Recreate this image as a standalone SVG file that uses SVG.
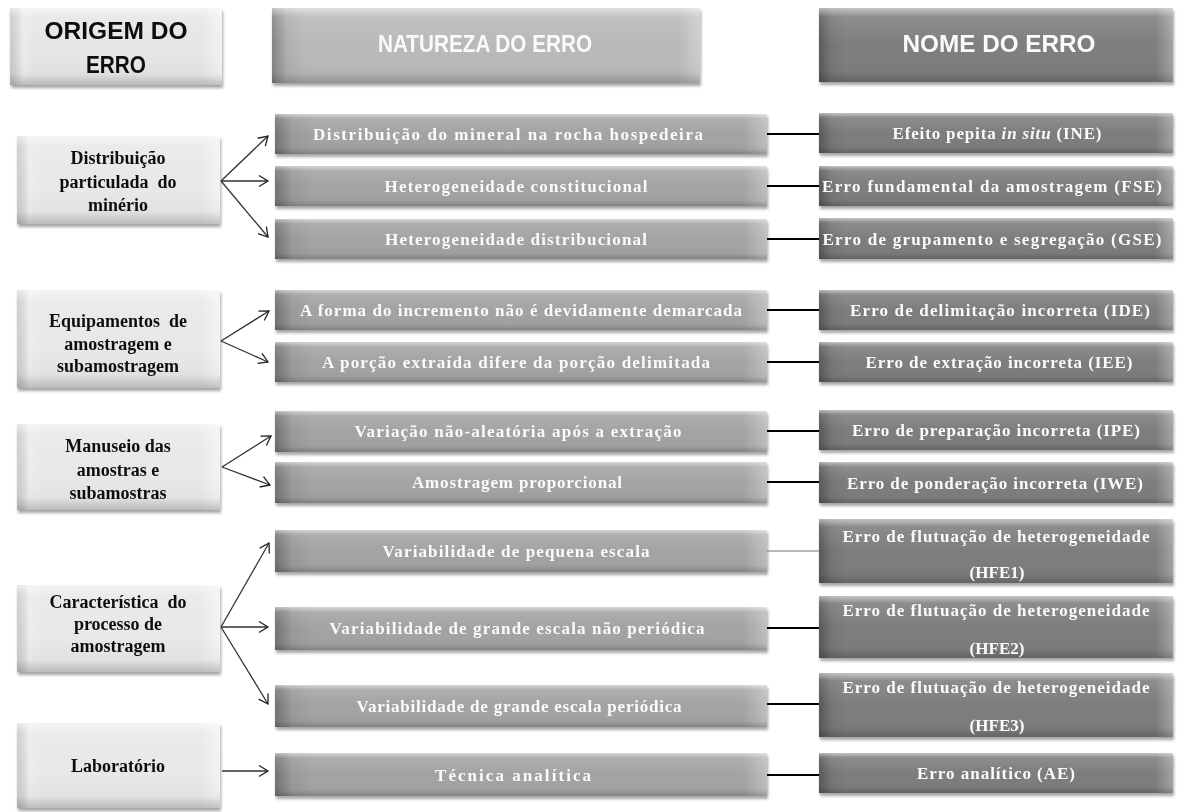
<svg xmlns="http://www.w3.org/2000/svg" width="1178" height="812" viewBox="0 0 1178 812">
<style>
.t{font-family:"Liberation Serif","Times New Roman",serif;font-weight:bold;text-anchor:middle}
.w{fill:#fbfbfb;font-size:17px}
.k{fill:#111;font-size:18px}
.h{font-family:"Liberation Sans",Arial,sans-serif;font-weight:bold;text-anchor:middle;font-size:23px}
.ln{stroke:#000;stroke-width:2;fill:none}
.ar{stroke:#333;stroke-width:1.3;fill:none;marker-end:url(#ah)}
.sh{filter:url(#ds)}
</style>
<defs>
<filter id="ds" x="-5%" y="-20%" width="110%" height="150%">
<feDropShadow dx="1" dy="3" stdDeviation="1.6" flood-color="#000" flood-opacity="0.35"/>
</filter>
<linearGradient id="vs" x1="0" y1="0" x2="0" y2="1">
<stop offset="0" stop-color="#fff" stop-opacity="0.55"/>
<stop offset="0.12" stop-color="#fff" stop-opacity="0.12"/>
<stop offset="0.5" stop-color="#fff" stop-opacity="0"/>
<stop offset="0.86" stop-color="#000" stop-opacity="0.03"/>
<stop offset="1" stop-color="#000" stop-opacity="0.2"/>
</linearGradient>
<linearGradient id="hs" x1="0" y1="0" x2="1" y2="0">
<stop offset="0" stop-color="#000" stop-opacity="0.3"/>
<stop offset="0.035" stop-color="#000" stop-opacity="0.06"/>
<stop offset="0.08" stop-color="#000" stop-opacity="0"/>
<stop offset="0.95" stop-color="#fff" stop-opacity="0"/>
<stop offset="1" stop-color="#fff" stop-opacity="0.3"/>
</linearGradient>
<linearGradient id="hl" x1="0" y1="0" x2="1" y2="0">
<stop offset="0" stop-color="#000" stop-opacity="0.12"/>
<stop offset="0.06" stop-color="#fff" stop-opacity="0.2"/>
<stop offset="0.12" stop-color="#fff" stop-opacity="0"/>
<stop offset="0.9" stop-color="#fff" stop-opacity="0"/>
<stop offset="1" stop-color="#fff" stop-opacity="0.5"/>
</linearGradient>
<marker id="ah" markerUnits="userSpaceOnUse" markerWidth="14" markerHeight="14" refX="11" refY="7" orient="auto">
<path d="M2,1.5 L11,7 L2,12.5" fill="none" stroke="#222" stroke-width="1.3"/>
</marker>
</defs>
<rect width="1178" height="812" fill="#fff"/>

<!-- headers -->
<g id="h-origem" class="sh">
<rect x="10" y="8" width="212" height="77" fill="#e6e6e6"/>
<rect x="10" y="8" width="212" height="77" fill="url(#hl)"/>
<rect x="10" y="8" width="212" height="77" fill="url(#vs)"/>
<text class="h" fill="#111" x="116" y="39" textLength="143" lengthAdjust="spacingAndGlyphs">ORIGEM DO</text>
<text class="h" fill="#111" x="116" y="73" textLength="60" lengthAdjust="spacingAndGlyphs">ERRO</text>
</g>
<g id="h-natureza" class="sh">
<rect x="272" y="8" width="428" height="75" fill="#b9b9b9"/>
<rect x="272" y="8" width="428" height="75" fill="url(#hs)"/>
<rect x="272" y="8" width="428" height="75" fill="url(#vs)"/>
<text class="h" fill="#fafafa" x="485" y="52" textLength="214" lengthAdjust="spacingAndGlyphs">NATUREZA DO ERRO</text>
</g>
<g id="h-nome" class="sh">
<rect x="819" y="8" width="354" height="74" fill="#7e7e7e"/>
<rect x="819" y="8" width="354" height="74" fill="url(#hs)"/>
<rect x="819" y="8" width="354" height="74" fill="url(#vs)"/>
<text class="h" fill="#fafafa" x="999" y="52" textLength="193" lengthAdjust="spacingAndGlyphs">NOME DO ERRO</text>
</g>

<!-- left nodes -->
<g id="o1" class="sh">
<rect x="17" y="136" width="203" height="88" fill="#e8e8e8"/>
<rect x="17" y="136" width="203" height="88" fill="url(#hl)"/>
<rect x="17" y="136" width="203" height="88" fill="url(#vs)"/>
<text class="t k" x="118" y="164">Distribuição</text>
<text class="t k" x="118" y="188" xml:space="preserve">particulada  do</text>
<text class="t k" x="118" y="211">minério</text>
</g>
<g id="o2" class="sh">
<rect x="17" y="290" width="203" height="98" fill="#e8e8e8"/>
<rect x="17" y="290" width="203" height="98" fill="url(#hl)"/>
<rect x="17" y="290" width="203" height="98" fill="url(#vs)"/>
<text class="t k" x="118" y="327" xml:space="preserve">Equipamentos  de</text>
<text class="t k" x="118" y="350">amostragem e</text>
<text class="t k" x="118" y="372">subamostragem</text>
</g>
<g id="o3" class="sh">
<rect x="17" y="424" width="203" height="86" fill="#e8e8e8"/>
<rect x="17" y="424" width="203" height="86" fill="url(#hl)"/>
<rect x="17" y="424" width="203" height="86" fill="url(#vs)"/>
<text class="t k" x="118" y="452">Manuseio das</text>
<text class="t k" x="118" y="476">amostras e</text>
<text class="t k" x="118" y="499">subamostras</text>
</g>
<g id="o4" class="sh">
<rect x="17" y="585" width="203" height="87" fill="#e8e8e8"/>
<rect x="17" y="585" width="203" height="87" fill="url(#hl)"/>
<rect x="17" y="585" width="203" height="87" fill="url(#vs)"/>
<text class="t k" x="118" y="608" xml:space="preserve">Característica  do</text>
<text class="t k" x="118" y="630">processo de</text>
<text class="t k" x="118" y="652">amostragem</text>
</g>
<g id="o5" class="sh">
<rect x="17" y="723" width="203" height="85" fill="#e8e8e8"/>
<rect x="17" y="723" width="203" height="85" fill="url(#hl)"/>
<rect x="17" y="723" width="203" height="85" fill="url(#vs)"/>
<text class="t k" x="118" y="772">Laboratório</text>
</g>

<!-- middle nodes -->
<g id="n1" class="sh">
<rect x="275" y="114" width="492" height="40" fill="#a3a3a3"/>
<rect x="275" y="114" width="492" height="40" fill="url(#hs)"/>
<rect x="275" y="114" width="492" height="40" fill="url(#vs)"/>
<text class="t w" x="508" y="140" textLength="390" lengthAdjust="spacing">Distribuição do mineral na rocha hospedeira</text>
</g>
<g id="n2" class="sh">
<rect x="275" y="166" width="492" height="40" fill="#a3a3a3"/>
<rect x="275" y="166" width="492" height="40" fill="url(#hs)"/>
<rect x="275" y="166" width="492" height="40" fill="url(#vs)"/>
<text class="t w" x="516" y="192" textLength="263" lengthAdjust="spacing">Heterogeneidade constitucional</text>
</g>
<g id="n3" class="sh">
<rect x="275" y="219" width="492" height="40" fill="#a3a3a3"/>
<rect x="275" y="219" width="492" height="40" fill="url(#hs)"/>
<rect x="275" y="219" width="492" height="40" fill="url(#vs)"/>
<text class="t w" x="516" y="245" textLength="262" lengthAdjust="spacing">Heterogeneidade distribucional</text>
</g>
<g id="n4" class="sh">
<rect x="275" y="290" width="492" height="40" fill="#a3a3a3"/>
<rect x="275" y="290" width="492" height="40" fill="url(#hs)"/>
<rect x="275" y="290" width="492" height="40" fill="url(#vs)"/>
<text class="t w" x="521" y="316" textLength="442" lengthAdjust="spacing">A forma do incremento não é devidamente demarcada</text>
</g>
<g id="n5" class="sh">
<rect x="275" y="342" width="492" height="40" fill="#a3a3a3"/>
<rect x="275" y="342" width="492" height="40" fill="url(#hs)"/>
<rect x="275" y="342" width="492" height="40" fill="url(#vs)"/>
<text class="t w" x="516" y="368" textLength="388" lengthAdjust="spacing">A porção extraída difere da porção delimitada</text>
</g>
<g id="n6" class="sh">
<rect x="275" y="411" width="492" height="41" fill="#a3a3a3"/>
<rect x="275" y="411" width="492" height="41" fill="url(#hs)"/>
<rect x="275" y="411" width="492" height="41" fill="url(#vs)"/>
<text class="t w" x="518" y="437" textLength="327" lengthAdjust="spacing">Variação não-aleatória após a extração</text>
</g>
<g id="n7" class="sh">
<rect x="275" y="462" width="492" height="41" fill="#a3a3a3"/>
<rect x="275" y="462" width="492" height="41" fill="url(#hs)"/>
<rect x="275" y="462" width="492" height="41" fill="url(#vs)"/>
<text class="t w" x="517" y="488" textLength="210" lengthAdjust="spacing">Amostragem proporcional</text>
</g>
<g id="n8" class="sh">
<rect x="275" y="530" width="492" height="42" fill="#a3a3a3"/>
<rect x="275" y="530" width="492" height="42" fill="url(#hs)"/>
<rect x="275" y="530" width="492" height="42" fill="url(#vs)"/>
<text class="t w" x="516" y="557" textLength="267" lengthAdjust="spacing">Variabilidade de pequena escala</text>
</g>
<g id="n9" class="sh">
<rect x="275" y="607" width="492" height="43" fill="#a3a3a3"/>
<rect x="275" y="607" width="492" height="43" fill="url(#hs)"/>
<rect x="275" y="607" width="492" height="43" fill="url(#vs)"/>
<text class="t w" x="517" y="634" textLength="375" lengthAdjust="spacing">Variabilidade de grande escala não periódica</text>
</g>
<g id="n10" class="sh">
<rect x="275" y="685" width="492" height="42" fill="#a3a3a3"/>
<rect x="275" y="685" width="492" height="42" fill="url(#hs)"/>
<rect x="275" y="685" width="492" height="42" fill="url(#vs)"/>
<text class="t w" x="519" y="712" textLength="325" lengthAdjust="spacing">Variabilidade de grande escala periódica</text>
</g>
<g id="n11" class="sh">
<rect x="275" y="753" width="492" height="43" fill="#a3a3a3"/>
<rect x="275" y="753" width="492" height="43" fill="url(#hs)"/>
<rect x="275" y="753" width="492" height="43" fill="url(#vs)"/>
<text class="t w" x="513" y="781" textLength="156" lengthAdjust="spacing">Técnica analítica</text>
</g>

<!-- right nodes -->
<g id="e1" class="sh">
<rect x="819" y="113" width="354" height="40" fill="#7d7d7d"/>
<rect x="819" y="113" width="354" height="40" fill="url(#hs)"/>
<rect x="819" y="113" width="354" height="40" fill="url(#vs)"/>
<text class="t w" x="997" y="139" textLength="209" lengthAdjust="spacing">Efeito pepita <tspan font-style="italic">in situ</tspan> (INE)</text>
</g>
<g id="e2" class="sh">
<rect x="819" y="166" width="354" height="40" fill="#7d7d7d"/>
<rect x="819" y="166" width="354" height="40" fill="url(#hs)"/>
<rect x="819" y="166" width="354" height="40" fill="url(#vs)"/>
<text class="t w" x="992" y="192" textLength="340" lengthAdjust="spacing">Erro fundamental da amostragem (FSE)</text>
</g>
<g id="e3" class="sh">
<rect x="819" y="218" width="354" height="41" fill="#7d7d7d"/>
<rect x="819" y="218" width="354" height="41" fill="url(#hs)"/>
<rect x="819" y="218" width="354" height="41" fill="url(#vs)"/>
<text class="t w" x="992" y="245" textLength="339" lengthAdjust="spacing">Erro de grupamento e segregação (GSE)</text>
</g>
<g id="e4" class="sh">
<rect x="819" y="290" width="354" height="40" fill="#7d7d7d"/>
<rect x="819" y="290" width="354" height="40" fill="url(#hs)"/>
<rect x="819" y="290" width="354" height="40" fill="url(#vs)"/>
<text class="t w" x="1000" y="316" textLength="300" lengthAdjust="spacing">Erro de delimitação incorreta (IDE)</text>
</g>
<g id="e5" class="sh">
<rect x="819" y="342" width="354" height="40" fill="#7d7d7d"/>
<rect x="819" y="342" width="354" height="40" fill="url(#hs)"/>
<rect x="819" y="342" width="354" height="40" fill="url(#vs)"/>
<text class="t w" x="999" y="368" textLength="267" lengthAdjust="spacing">Erro de extração incorreta (IEE)</text>
</g>
<g id="e6" class="sh">
<rect x="819" y="410" width="354" height="40" fill="#7d7d7d"/>
<rect x="819" y="410" width="354" height="40" fill="url(#hs)"/>
<rect x="819" y="410" width="354" height="40" fill="url(#vs)"/>
<text class="t w" x="996" y="436" textLength="288" lengthAdjust="spacing">Erro de preparação incorreta (IPE)</text>
</g>
<g id="e7" class="sh">
<rect x="819" y="462" width="354" height="41" fill="#7d7d7d"/>
<rect x="819" y="462" width="354" height="41" fill="url(#hs)"/>
<rect x="819" y="462" width="354" height="41" fill="url(#vs)"/>
<text class="t w" x="995" y="489" textLength="296" lengthAdjust="spacing">Erro de ponderação incorreta (IWE)</text>
</g>
<g id="e8" class="sh">
<rect x="819" y="519" width="354" height="64" fill="#7d7d7d"/>
<rect x="819" y="519" width="354" height="64" fill="url(#hs)"/>
<rect x="819" y="519" width="354" height="64" fill="url(#vs)"/>
<text class="t w" x="996" y="542" textLength="307" lengthAdjust="spacing">Erro de flutuação de heterogeneidade</text>
<text class="t w" x="997" y="578">(HFE1)</text>
</g>
<g id="e9" class="sh">
<rect x="819" y="596" width="354" height="62" fill="#7d7d7d"/>
<rect x="819" y="596" width="354" height="62" fill="url(#hs)"/>
<rect x="819" y="596" width="354" height="62" fill="url(#vs)"/>
<text class="t w" x="996" y="616" textLength="307" lengthAdjust="spacing">Erro de flutuação de heterogeneidade</text>
<text class="t w" x="997" y="654">(HFE2)</text>
</g>
<g id="e10" class="sh">
<rect x="819" y="673" width="354" height="64" fill="#7d7d7d"/>
<rect x="819" y="673" width="354" height="64" fill="url(#hs)"/>
<rect x="819" y="673" width="354" height="64" fill="url(#vs)"/>
<text class="t w" x="996" y="693" textLength="307" lengthAdjust="spacing">Erro de flutuação de heterogeneidade</text>
<text class="t w" x="997" y="731">(HFE3)</text>
</g>
<g id="e11" class="sh">
<rect x="819" y="753" width="354" height="40" fill="#7d7d7d"/>
<rect x="819" y="753" width="354" height="40" fill="url(#hs)"/>
<rect x="819" y="753" width="354" height="40" fill="url(#vs)"/>
<text class="t w" x="996" y="779" textLength="158" lengthAdjust="spacing">Erro analítico (AE)</text>
</g>

<!-- connectors -->
<g id="connectors">
<path class="ar" d="M221,181 L268,136"/>
<path class="ar" d="M221,181 L268,181"/>
<path class="ar" d="M221,181 L268,237"/>
<path class="ar" d="M221,341 L269,311"/>
<path class="ar" d="M221,341 L268,362"/>
<path class="ar" d="M222,467 L271,436"/>
<path class="ar" d="M222,467 L270,485"/>
<path class="ar" d="M221,627 L269,543"/>
<path class="ar" d="M221,627 L268,627"/>
<path class="ar" d="M221,627 L268,704"/>
<path class="ar" d="M222,771 L268,771"/>
<path class="ln" d="M767,134 H819"/>
<path class="ln" d="M767,186 H819"/>
<path class="ln" d="M767,239 H819"/>
<path class="ln" d="M767,310 H819"/>
<path class="ln" d="M767,362 H819"/>
<path class="ln" d="M767,431 H819"/>
<path class="ln" d="M767,482 H819"/>
<path d="M767,551 H819" stroke="#777" stroke-width="1.2" fill="none"/>
<path class="ln" d="M767,628 H819"/>
<path class="ln" d="M767,704 H819"/>
<path class="ln" d="M767,775 H819"/>
</g>
</svg>
